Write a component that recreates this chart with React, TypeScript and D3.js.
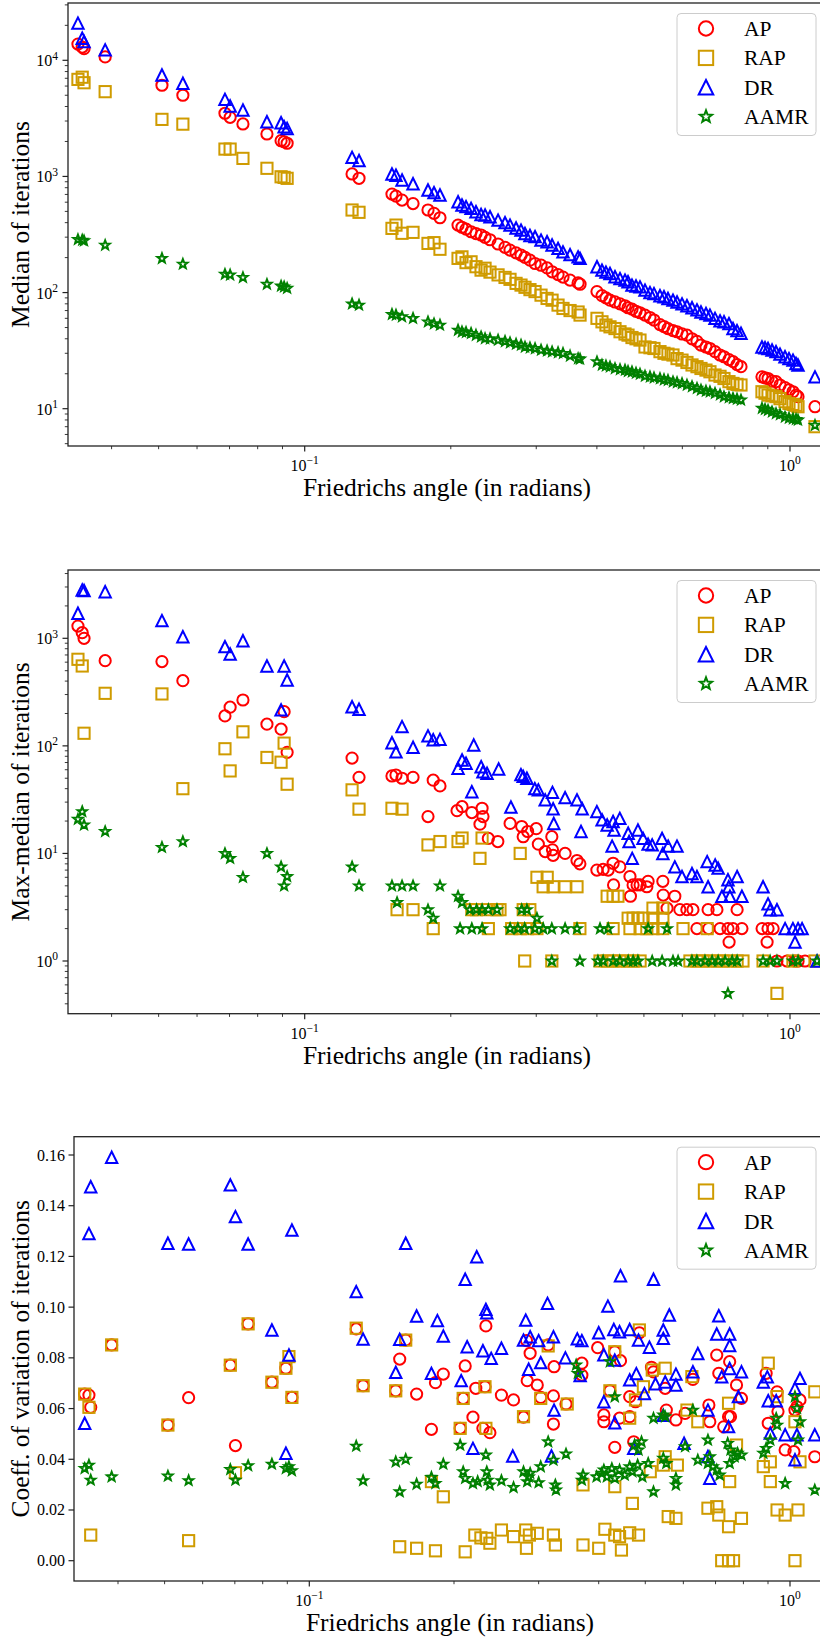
import React from 'react';
import * as d3 from 'd3';

// ---------- DATA ----------
// Friedrichs angles (radians) used for the median panel
const angles = [0.0341, 0.0348, 0.0351, 0.0388, 0.0508, 0.0561, 0.0685, 0.0702, 0.0746, 0.0836, 0.0894, 0.0907, 0.092, 0.1252, 0.1294, 0.1513, 0.1542, 0.1587, 0.1672, 0.1795, 0.1847, 0.19, 0.207, 0.2109, 0.215, 0.2202, 0.2254, 0.2309, 0.2353, 0.2409, 0.2503, 0.2587, 0.2649, 0.2726, 0.2791, 0.2844, 0.2912, 0.2983, 0.3069, 0.3158, 0.3234, 0.3327, 0.3406, 0.3522, 0.3659, 0.3693, 0.4002, 0.4098, 0.4176, 0.4257, 0.4359, 0.4464, 0.4571, 0.4637, 0.4725, 0.4816, 0.4908, 0.5026, 0.5146, 0.5245, 0.5396, 0.55, 0.5605, 0.574, 0.5851, 0.5991, 0.6133, 0.6282, 0.6432, 0.6555, 0.6712, 0.684, 0.7006, 0.7175, 0.7311, 0.7486, 0.763, 0.7777, 0.7925, 0.8755, 0.8882, 0.901, 0.9182, 0.9358, 0.9537, 0.9766, 0.9952, 1.0144, 1.029, 1.0387, 1.1259];

const medAP = [13800, 13000, 12600, 10700, 6100, 5000, 3500, 3230, 2830, 2320, 2030, 1990, 1930, 1050, 964, 705, 677, 626, 584, 514, 481, 441, 381, 365, 352, 334, 322, 313, 299, 285, 262, 245, 232, 220, 210, 201, 190, 178, 172, 163, 151, 143, 136, 128, 121, 118, 102, 94, 90, 86, 83, 80, 77, 74, 72, 69, 67, 64, 61, 58, 53, 51, 49, 47, 46, 44, 43, 40, 38, 35.3, 34, 33, 31, 29, 28, 26.5, 25.4, 24, 23, 18.8, 18.4, 18.2, 17.3, 17.1, 16, 15.2, 14.5, 14, 13.1, 12.7, 10.4];
const medRAP = [6850, 7150, 6410, 5370, 3100, 2820, 1720, 1720, 1430, 1175, 993, 981, 963, 514, 491, 357, 381, 324, 330, 265, 269, 236, 197, 203, 181, 184, 167, 156, 162, 150, 142, 135, 130, 120, 116, 111, 106, 102, 95, 89, 86, 78, 73, 70, 68, 64, 60, 56, 52.5, 50.7, 49, 46, 44, 43, 41, 40, 39, 34, 33.5, 33, 31, 30, 29.5, 29, 27, 26.2, 25, 23.8, 23, 22.2, 21.5, 20.8, 19.5, 19, 18.2, 17.1, 16.5, 16.2, 16, 14, 13.6, 13.1, 12.9, 12.7, 12.2, 11.5, 11.1, 10.9, 10.7, 10.4, 7];
const medDR = [20900, 15500, 14500, 12300, 7470, 6340, 4610, 4040, 3730, 2960, 2900, 2680, 2590, 1460, 1370, 1050, 1025, 931, 865, 764, 725, 692, 605, 567, 550, 531, 497, 470, 465, 450, 421, 400, 381, 360, 345, 323, 310, 303, 283, 274, 257, 240, 224, 212, 203, 197, 167, 156, 150, 146, 137, 132, 128, 124, 116, 114, 112, 105, 100, 98, 94, 92, 89, 86, 83, 80, 77, 74, 71, 68, 66, 64, 60, 57, 56, 54, 49, 47, 44.6, 34, 33.5, 33, 32, 31, 29.5, 28, 27, 26.2, 24.5, 23.8, 18.8];
const medAAMR = [287, 283, 280, 256, 197, 176, 144, 142, 135, 118, 114, 112, 109, 80, 78, 65, 64, 62, 60, 56, 54, 52.5, 47.5, 46, 45.5, 44.6, 43, 41.6, 40.3, 40, 39, 38, 37, 36, 35.3, 34, 33.5, 33, 32, 31.5, 31, 30.5, 30, 28.5, 27, 26.8, 25.4, 23.8, 23.4, 23, 22.2, 21.8, 21.5, 21, 20.8, 20.3, 19.9, 19.1, 18.8, 18.5, 18.2, 17.8, 17.6, 17.1, 16.8, 16.5, 16, 15.5, 15, 14.5, 14.2, 14, 13.6, 13.2, 12.7, 12.5, 12.3, 12.1, 11.9, 10.1, 9.9, 9.7, 9.4, 9.1, 8.9, 8.5, 8.3, 8.2, 8.1, 8, 7.2];

// Max-median of iterations: [angle, value]
const mmAP = [[0.0341,1300],[0.0348,1128],[0.0351,1000],[0.0388,620],[0.0508,607],[0.0561,404],[0.0685,190],[0.0702,229],[0.0746,267],[0.0836,159],[0.0894,143],[0.0907,208],[0.092,87],[0.1252,77],[0.1294,51],[0.1513,52.5],[0.1542,53.6],[0.1587,50],[0.1672,51],[0.1795,22],[0.184,48],[0.19,42.4],[0.206,25],[0.211,27.2],[0.221,24],[0.232,26.3],[0.233,22],[0.2297,18.7],[0.239,13.8],[0.25,12.9],[0.265,19],[0.28,17.8],[0.282,14.3],[0.288,16],[0.3,17],[0.303,12.2],[0.313,10.4],[0.323,14.3],[0.324,10.8],[0.325,9.6],[0.344,10],[0.364,8.6],[0.369,8],[0.4,7],[0.412,7.1],[0.422,7],[0.432,8.1],[0.446,7.5],[0.433,5.1],[0.468,6.1],[0.475,5.1],[0.491,5.1],[0.51,5.5],[0.547,5.5],[0.469,4],[0.484,5.1],[0.507,4.9],[0.548,4.1],[0.579,4],[0.558,3.1],[0.593,3],[0.613,3],[0.631,3],[0.678,3],[0.707,3],[0.778,3],[0.643,2],[0.68,2],[0.7175,2],[0.745,2],[0.763,2],[0.796,2],[0.749,1.5],[0.876,2],[0.901,2],[0.923,2],[0.897,1.5],[0.94,1],[0.986,1],[1.024,1],[1.039,1],[1.074,1]];
const mmRAP = [[0.0341,638],[0.0348,553],[0.0351,131],[0.0388,308],[0.0508,304],[0.0561,40],[0.0685,94],[0.0702,58.5],[0.0746,135],[0.0836,78],[0.0894,70.5],[0.0907,106],[0.092,44],[0.1252,39],[0.1294,25.8],[0.1513,26.3],[0.1587,25.8],[0.155,3],[0.1672,3],[0.1795,12],[0.19,12.9],[0.184,2],[0.207,12.9],[0.211,13.9],[0.232,13.9],[0.2297,9],[0.221,3],[0.226,3],[0.2375,3],[0.249,3],[0.2526,3],[0.239,2],[0.267,2],[0.278,2],[0.278,10],[0.282,3],[0.288,2],[0.291,3],[0.301,2],[0.284,1],[0.301,6],[0.316,6],[0.31,4.9],[0.325,4.9],[0.344,4.9],[0.364,4.9],[0.323,1],[0.369,2],[0.406,1],[0.42,4],[0.42,1],[0.432,4],[0.432,2],[0.432,1],[0.442,4],[0.446,1],[0.4615,1],[0.464,2.5],[0.468,2],[0.475,2.5],[0.475,1],[0.486,2.5],[0.491,2],[0.491,1],[0.498,2.5],[0.507,2],[0.522,3.1],[0.522,2.5],[0.522,2],[0.547,3.1],[0.547,2.5],[0.547,2],[0.602,2],[0.622,1],[0.643,1],[0.662,1],[0.675,2],[0.684,1],[0.707,1],[0.728,1],[0.752,1],[0.778,1],[0.8,1],[0.88,1],[0.94,0.5],[1.014,1],[1.126,1]];
const mmDR = [[0.0341,1710],[0.0348,2810],[0.0351,2780],[0.0388,2710],[0.0508,1460],[0.0561,1035],[0.0685,836],[0.0702,714],[0.0746,950],[0.0836,553],[0.0894,216],[0.0907,553],[0.092,410],[0.1252,231],[0.1294,219],[0.1513,107],[0.1542,88],[0.1587,151],[0.1672,97],[0.1795,124],[0.184,114],[0.19,115],[0.207,62],[0.211,74],[0.215,69],[0.223,102],[0.221,37.5],[0.231,64],[0.233,57.5],[0.2375,55.6],[0.251,61],[0.266,27],[0.279,54],[0.282,52],[0.287,50],[0.298,40],[0.303,39],[0.313,31.5],[0.324,37],[0.325,26],[0.326,19],[0.344,33],[0.364,31.5],[0.373,26],[0.371,16],[0.4,24.5],[0.41,20.5],[0.42,18.4],[0.432,19.8],[0.446,21.2],[0.434,16.5],[0.43,11.7],[0.464,15.4],[0.466,12.9],[0.473,9],[0.486,16.5],[0.498,13.8],[0.51,12.2],[0.52,12],[0.545,13.8],[0.547,10],[0.561,11.7],[0.585,11.7],[0.579,7.5],[0.599,6.1],[0.628,6.5],[0.643,6.1],[0.675,8.4],[0.678,4.9],[0.701,7.8],[0.711,7.3],[0.724,4],[0.745,5.7],[0.748,4.9],[0.752,4],[0.778,6.1],[0.796,4],[0.88,4.9],[0.901,3.4],[0.91,3],[0.94,3],[0.977,2],[1.014,2],[1.039,2],[1.059,2],[1.024,1.5],[1.137,1]];
const mmAAMR = [[0.0341,20.8],[0.0348,24.5],[0.0351,18.4],[0.0388,16],[0.0508,11.4],[0.0561,12.9],[0.0685,10],[0.0702,9],[0.0746,6],[0.0836,10],[0.0894,7.5],[0.0907,5],[0.092,6.1],[0.1252,7.5],[0.1294,5],[0.1513,5],[0.155,3.5],[0.1587,5],[0.1672,5],[0.1795,3],[0.184,2.5],[0.19,5],[0.207,4],[0.211,3.5],[0.209,2],[0.219,3],[0.221,2],[0.226,3],[0.232,3],[0.232,2],[0.239,3],[0.249,3],[0.265,2],[0.275,2],[0.28,3],[0.284,2],[0.287,3],[0.298,2],[0.301,2.5],[0.31,2],[0.323,2],[0.323,1],[0.344,2],[0.364,2],[0.369,1],[0.402,1],[0.406,2],[0.412,1],[0.422,2],[0.432,1],[0.446,1],[0.464,1],[0.475,1],[0.486,1],[0.51,2],[0.52,1],[0.545,1],[0.558,2],[0.574,1],[0.588,1],[0.628,1],[0.643,1],[0.668,1],[0.691,1],[0.711,1],[0.735,1],[0.745,0.5],[0.76,1],[0.778,1],[0.88,1],[0.91,1],[0.94,1],[1.014,1],[1.039,1],[1.137,1]];

// Coefficient of variation of iterations: [angle, value]
const cvAP = [[0.0341,0.0657],[0.0348,0.0653],[0.0351,0.0605],[0.0388,0.0851],[0.0508,0.0535],[0.0561,0.0643],[0.0685,0.0771],[0.0702,0.0454],[0.0746,0.0934],[0.0836,0.0704],[0.0894,0.0759],[0.092,0.0644],[0.1252,0.0914],[0.1294,0.069],[0.1513,0.067],[0.1542,0.0795],[0.1587,0.087],[0.1672,0.0657],[0.1795,0.0518],[0.183,0.0702],[0.19,0.0736],[0.206,0.0522],[0.209,0.064],[0.211,0.0768],[0.219,0.0566],[0.222,0.068],[0.2297,0.0522],[0.233,0.0926],[0.232,0.0686],[0.2375,0.0505],[0.251,0.0653],[0.266,0.0634],[0.279,0.0566],[0.283,0.0868],[0.288,0.0818],[0.284,0.071],[0.298,0.0693],[0.303,0.0644],[0.314,0.0851],[0.323,0.0765],[0.322,0.065],[0.322,0.0539],[0.342,0.0618],[0.369,0.0779],[0.369,0.0732],[0.398,0.084],[0.41,0.0575],[0.41,0.0548],[0.422,0.067],[0.432,0.0824],[0.444,0.0789],[0.442,0.0562],[0.432,0.0447],[0.464,0.0647],[0.464,0.0568],[0.473,0.0469],[0.486,0.0899],[0.477,0.0627],[0.515,0.0763],[0.52,0.0745],[0.55,0.068],[0.553,0.0594],[0.579,0.0555],[0.605,0.0581],[0.628,0.0715],[0.678,0.0614],[0.681,0.0548],[0.704,0.0811],[0.711,0.0739],[0.728,0.0528],[0.745,0.0568],[0.752,0.0568],[0.749,0.0785],[0.774,0.0693],[0.7925,0.064],[0.892,0.0739],[0.94,0.0666],[0.901,0.0542],[0.944,0.0588],[0.977,0.0437],[1.024,0.0594],[1.049,0.0634],[1.034,0.0607],[1.019,0.043],[1.126,0.041]];
const cvRAP = [[0.0341,0.0657],[0.0348,0.0605],[0.0351,0.0101],[0.0388,0.0851],[0.0508,0.0535],[0.0561,0.0079],[0.0685,0.0771],[0.0702,0.0347],[0.0746,0.0934],[0.0836,0.0704],[0.0894,0.0759],[0.0907,0.0805],[0.092,0.0644],[0.1252,0.0917],[0.1294,0.069],[0.1513,0.067],[0.1542,0.0055],[0.1587,0.087],[0.1672,0.0049],[0.1795,0.0312],[0.183,0.0039],[0.19,0.0252],[0.206,0.0522],[0.209,0.064],[0.211,0.0035],[0.221,0.0101],[0.2275,0.009],[0.233,0.0522],[0.232,0.0686],[0.234,0.0088],[0.2375,0.0069],[0.251,0.0121],[0.266,0.0095],[0.279,0.0568],[0.282,0.0121],[0.283,0.0049],[0.287,0.0101],[0.298,0.0108],[0.303,0.064],[0.314,0.0847],[0.322,0.0101],[0.325,0.0062],[0.344,0.0618],[0.371,0.0062],[0.371,0.0299],[0.4,0.0049],[0.412,0.0124],[0.422,0.067],[0.432,0.0824],[0.432,0.0292],[0.432,0.0101],[0.442,0.0095],[0.446,0.0042],[0.464,0.011],[0.464,0.0562],[0.47,0.0226],[0.484,0.0101],[0.486,0.091],[0.4955,0.0686],[0.477,0.0634],[0.512,0.0351],[0.517,0.0752],[0.545,0.0377],[0.55,0.0759],[0.558,0.0174],[0.55,0.041],[0.579,0.0167],[0.583,0.0377],[0.6105,0.0594],[0.625,0.0726],[0.643,0.0548],[0.675,0.0207],[0.704,0.0213],[0.711,0.018],[0.721,0],[0.745,0.0134],[0.745,0],[0.763,0],[0.745,0.0621],[0.749,0.0312],[0.774,0.0456],[0.7925,0.0167],[0.88,0.0371],[0.91,0.039],[0.91,0.0312],[0.901,0.0779],[0.94,0.02],[0.94,0.0647],[0.977,0.018],[1.039,0.02],[1.024,0],[1.024,0.0548],[1.049,0.039],[1.126,0.0666]];
const cvDR = [[0.0341,0.0542],[0.0348,0.129],[0.0351,0.1475],[0.0388,0.1591],[0.0508,0.1252],[0.0561,0.1249],[0.0685,0.1482],[0.0702,0.1357],[0.0746,0.1249],[0.0836,0.091],[0.0894,0.0424],[0.0907,0.0811],[0.092,0.1304],[0.1252,0.1061],[0.1294,0.0874],[0.1513,0.0743],[0.1542,0.0873],[0.1587,0.1252],[0.1672,0.0965],[0.1795,0.0739],[0.1847,0.0947],[0.19,0.0886],[0.207,0.071],[0.211,0.111],[0.213,0.0844],[0.219,0.0443],[0.223,0.1199],[0.233,0.0991],[0.234,0.0978],[0.2297,0.0828],[0.239,0.0798],[0.251,0.0838],[0.265,0.0413],[0.282,0.0949],[0.279,0.087],[0.288,0.0883],[0.3,0.0868],[0.286,0.0755],[0.303,0.0781],[0.313,0.1015],[0.319,0.0413],[0.322,0.0883],[0.323,0.0594],[0.341,0.08],[0.361,0.0875],[0.369,0.0868],[0.366,0.073],[0.4,0.0899],[0.41,0.0812],[0.418,0.1004],[0.41,0.0627],[0.43,0.0912],[0.442,0.0903],[0.432,0.0791],[0.432,0.0544],[0.444,0.1124],[0.464,0.0912],[0.464,0.0713],[0.473,0.0443],[0.484,0.087],[0.479,0.0738],[0.498,0.0659],[0.51,0.0842],[0.52,0.111],[0.525,0.0698],[0.545,0.091],[0.545,0.0877],[0.561,0.0969],[0.55,0.0705],[0.545,0.0573],[0.579,0.0736],[0.579,0.0693],[0.602,0.0463],[0.628,0.0745],[0.643,0.0817],[0.675,0.0594],[0.681,0.0325],[0.675,0.0411],[0.704,0.0894],[0.711,0.0966],[0.721,0.0725],[0.749,0.0894],[0.749,0.0849],[0.749,0.0758],[0.745,0.0529],[0.781,0.0647],[0.7925,0.0745],[0.88,0.0705],[0.897,0.0725],[0.901,0.0631],[0.936,0.0631],[0.91,0.0503],[0.977,0.0497],[1.024,0.068],[1.049,0.0719],[1.034,0.0497],[1.024,0.0398],[1.126,0.0497]];
const cvAAMR = [[0.0341,0.0364],[0.0348,0.0377],[0.0351,0.0318],[0.0388,0.0331],[0.0508,0.0334],[0.0561,0.0316],[0.0685,0.036],[0.0702,0.0318],[0.0746,0.0375],[0.0836,0.0381],[0.0894,0.0364],[0.0907,0.0371],[0.092,0.0355],[0.1252,0.0452],[0.1294,0.0316],[0.1513,0.039],[0.1542,0.0272],[0.1587,0.04],[0.1672,0.0302],[0.1795,0.0329],[0.183,0.0305],[0.19,0.0381],[0.206,0.0456],[0.209,0.0351],[0.211,0.0325],[0.219,0.0305],[0.224,0.0312],[0.233,0.0417],[0.234,0.0351],[0.235,0.0318],[0.2375,0.0299],[0.251,0.0316],[0.266,0.0289],[0.279,0.0351],[0.286,0.0331],[0.288,0.0345],[0.284,0.0312],[0.3,0.0308],[0.303,0.0371],[0.314,0.0469],[0.322,0.0397],[0.325,0.0299],[0.326,0.0279],[0.342,0.0421],[0.359,0.0772],[0.362,0.0739],[0.369,0.0318],[0.371,0.0338],[0.396,0.0331],[0.406,0.0345],[0.41,0.0358],[0.416,0.0331],[0.422,0.0785],[0.426,0.0364],[0.432,0.0647],[0.432,0.0325],[0.442,0.0358],[0.453,0.0338],[0.464,0.0371],[0.47,0.0351],[0.475,0.0456],[0.482,0.0377],[0.484,0.0437],[0.491,0.0469],[0.493,0.0331],[0.507,0.0384],[0.52,0.0272],[0.52,0.0562],[0.545,0.0575],[0.55,0.0568],[0.545,0.0404],[0.553,0.0384],[0.579,0.0325],[0.579,0.0299],[0.605,0.045],[0.628,0.0594],[0.643,0.0397],[0.675,0.0476],[0.681,0.041],[0.675,0.0384],[0.691,0.0371],[0.704,0.0358],[0.714,0.0338],[0.742,0.0463],[0.752,0.0437],[0.767,0.041],[0.778,0.0424],[0.7925,0.0417],[0.749,0.0384],[0.88,0.0424],[0.892,0.0443],[0.91,0.0476],[0.936,0.0562],[0.94,0.0535],[0.977,0.0305],[1.024,0.0647],[1.034,0.0601],[1.049,0.0548],[1.039,0.0476],[1.126,0.0279]];

const methods = ['AP', 'RAP', 'DR', 'AAMR'];
const cvTicks = [0, 0.02, 0.04, 0.06, 0.08, 0.1, 0.12, 0.14, 0.16];

// ---------- STYLE ----------
const FONT = "'Liberation Serif', 'Times New Roman', serif";
const COLORS = { AP: '#ff0000', RAP: '#cf9b00', DR: '#0000ff', AAMR: '#008000' };
const SHAPES = { AP: 'circle', RAP: 'square', DR: 'triangle', AAMR: 'star' };

function starPath(R) {
  const r = R * 0.42;
  let d = '';
  for (let i = 0; i < 10; i++) {
    const rad = i % 2 === 0 ? R : r;
    const a = -Math.PI / 2 + (i * Math.PI) / 5;
    d += (i === 0 ? 'M' : 'L') + (rad * Math.cos(a)).toFixed(2) + ',' + (rad * Math.sin(a)).toFixed(2);
  }
  return d + 'Z';
}

function Marker({ m, x, y, s }) {
  const c = COLORS[m];
  const sw = 2;
  const shape = SHAPES[m];
  if (shape === 'circle') return <circle cx={x} cy={y} r={5.6 * s} fill="none" stroke={c} strokeWidth={sw} />;
  if (shape === 'square') {
    const h = 5.6 * s;
    return <rect x={x - h} y={y - h} width={2 * h} height={2 * h} fill="none" stroke={c} strokeWidth={sw} />;
  }
  if (shape === 'triangle') {
    const h = 5.7 * s;
    return <path d={`M${x},${y - h}L${x - h},${y + h}L${x + h},${y + h}Z`} fill="none" stroke={c} strokeWidth={sw} strokeLinejoin="miter" />;
  }
  return <path transform={`translate(${x},${y})`} d={starPath(4.9 * s)} fill="none" stroke={c} strokeWidth={sw} strokeLinejoin="miter" />;
}

function Pow10({ x, y, e, anchor, size }) {
  const exp = e < 0 ? '\u2212' + Math.abs(e) : String(e);
  return (
    <text x={x} y={y} textAnchor={anchor} fontFamily={FONT} fontSize={size} fill="#000">
      <tspan>10</tspan>
      <tspan dy={-size * 0.42} fontSize={size * 0.72}>{exp}</tspan>
    </text>
  );
}

function Panel({ cfg, id }) {
  const { left, right, top, bottom, xAt01, xAt1 } = cfg;
  const x = d3.scaleLog().domain([0.1, 1]).range([xAt01, xAt1]);
  const y = cfg.yLog
    ? d3.scaleLog().domain(cfg.yDom).range(cfg.yRng)
    : d3.scaleLinear().domain(cfg.yDom).range(cfg.yRng);
  const inX = (v) => x(v) >= left - 0.5 && x(v) <= right + 0.5;
  const inY = (v) => y(v) >= top - 0.5 && y(v) <= bottom + 0.5;

  const xMajor = [0.01, 0.1, 1, 10].filter(inX);
  const xMinor = [];
  [0.01, 0.1, 1].forEach((d) => { for (let k = 2; k < 10; k++) { const v = k * d; if (inX(v)) xMinor.push(v); } });

  let yMajor = [];
  const yMinor = [];
  if (cfg.yLog) {
    for (let e = -2; e <= 6; e++) {
      const v = Math.pow(10, e);
      if (inY(v)) yMajor.push(e);
      for (let k = 2; k < 10; k++) { const w = k * v; if (inY(w)) yMinor.push(w); }
    }
  } else {
    yMajor = cfg.yTicks.filter(inY);
  }

  const tickC = '#222';
  const mid = (left + right) / 2;
  const series = cfg.series;
  const legTop = top + 10.5;

  return (
    <g>
      <defs>
        <clipPath id={id}>
          <rect x={left} y={top} width={right - left} height={bottom - top} />
        </clipPath>
      </defs>
      <g clipPath={`url(#${id})`}>
        {methods.map((m) => (
          <g key={m}>
            {series[m].map((p, i) => (
              <Marker key={i} m={m} x={x(p[0])} y={y(p[1])} s={1} />
            ))}
          </g>
        ))}
      </g>
      <rect x={left} y={top} width={right - left} height={bottom - top} fill="none" stroke={tickC} strokeWidth={1.3} />
      {xMajor.map((v) => (
        <g key={'xM' + v}>
          <line x1={x(v)} x2={x(v)} y1={bottom} y2={bottom + 5.5} stroke={tickC} strokeWidth={1.2} />
          <Pow10 x={x(v)} y={bottom + 25} e={Math.round(Math.log10(v))} anchor="middle" size={16} />
        </g>
      ))}
      {xMinor.map((v) => (
        <line key={'xm' + v} x1={x(v)} x2={x(v)} y1={bottom} y2={bottom + 3.2} stroke={tickC} strokeWidth={0.9} />
      ))}
      {cfg.yLog
        ? yMajor.map((e) => (
            <g key={'yM' + e}>
              <line x1={left - 5.5} x2={left} y1={y(Math.pow(10, e))} y2={y(Math.pow(10, e))} stroke={tickC} strokeWidth={1.2} />
              <Pow10 x={left - 10} y={y(Math.pow(10, e)) + 6} e={e} anchor="end" size={16} />
            </g>
          ))
        : yMajor.map((v) => (
            <g key={'yM' + v}>
              <line x1={left - 5.5} x2={left} y1={y(v)} y2={y(v)} stroke={tickC} strokeWidth={1.2} />
              <text x={left - 9} y={y(v) + 5.5} textAnchor="end" fontFamily={FONT} fontSize={16} fill="#000">
                {v.toFixed(2)}
              </text>
            </g>
          ))}
      {yMinor.map((v) => (
        <line key={'ym' + v} x1={left - 3.2} x2={left} y1={y(v)} y2={y(v)} stroke={tickC} strokeWidth={0.9} />
      ))}
      <text x={mid} y={bottom + 50} textAnchor="middle" fontFamily={FONT} fontSize={25.5} fill="#000">
        Friedrichs angle (in radians)
      </text>
      <text
        transform={`translate(${29},${(top + bottom) / 2}) rotate(-90)`}
        textAnchor="middle"
        fontFamily={FONT}
        fontSize={25.5}
        fill="#000"
      >
        {cfg.yLabel}
      </text>
      <rect x={677} y={legTop} width={139} height={122} rx={4} ry={4} fill="#fff" fillOpacity={0.8} stroke="#cccccc" strokeWidth={1} />
      {methods.map((m, i) => {
        const cy = legTop + 15 + i * 29.4;
        return (
          <g key={'leg' + m}>
            <Marker m={m} x={706} y={cy} s={1.28} />
            <text x={744} y={cy + 7.5} fontFamily={FONT} fontSize={21.5} fill="#000">
              {m}
            </text>
          </g>
        );
      })}
    </g>
  );
}

const toPairs = (vals) => vals.map((v, i) => [angles[i], v]);

export default function App() {
  const p1 = {
    left: 68, right: 826, top: 3, bottom: 446, xAt01: 304.7, xAt1: 790,
    yLog: true, yDom: [10, 10000], yRng: [408.7, 60.3],
    yLabel: 'Median of iterations',
    series: { AP: toPairs(medAP), RAP: toPairs(medRAP), DR: toPairs(medDR), AAMR: toPairs(medAAMR) },
  };
  const p2 = {
    left: 68, right: 826, top: 570, bottom: 1013.7, xAt01: 304.7, xAt1: 790,
    yLog: true, yDom: [1, 1000], yRng: [961, 638.3],
    yLabel: 'Max-median of iterations',
    series: { AP: mmAP, RAP: mmRAP, DR: mmDR, AAMR: mmAAMR },
  };
  const p3 = {
    left: 74, right: 826, top: 1136.7, bottom: 1581, xAt01: 309.3, xAt1: 790,
    yLog: false, yDom: [0, 0.16], yRng: [1560.7, 1155], yTicks: cvTicks,
    yLabel: 'Coeff. of variation of iterations',
    series: { AP: cvAP, RAP: cvRAP, DR: cvDR, AAMR: cvAAMR },
  };
  return (
    <svg
      width={820}
      height={1638}
      viewBox="0 0 820 1638"
      style={{ position: 'absolute', left: 0, top: 0, background: '#fff' }}
    >
      <rect x={0} y={0} width={820} height={1638} fill="#fff" />
      <Panel cfg={p1} id="clip1" />
      <Panel cfg={p2} id="clip2" />
      <Panel cfg={p3} id="clip3" />
    </svg>
  );
}
